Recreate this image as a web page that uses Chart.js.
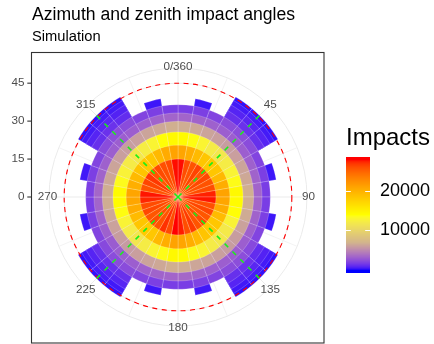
<!DOCTYPE html>
<html>
<head>
<meta charset="utf-8">
<script src="https://cdn.jsdelivr.net/npm/chart.js@4.4.1/dist/chart.umd.min.js"></script>
<style>
  html, body { margin: 0; padding: 0; background: #fff; }
  canvas { display: block; }
</style>
</head>
<body>
<canvas id="chart" width="434" height="344"></canvas>
<script>
// azimuth bins (start of each 10 degree bin)
const azimuthBins = [0, 10, 20, 30, 40, 50, 60, 70, 80, 90, 100, 110, 120, 130, 140, 150, 160, 170,
  180, 190, 200, 210, 220, 230, 240, 250, 260, 270, 280, 290, 300, 310, 320, 330, 340, 350];

// outer edge of each zenith ring (degrees)
const zenithEdges = [15, 20.5, 25.7, 29.9, 33.2, 36.5, 39.4, 42.0, 44.0, 45.6];

// impacts per cell, one array per zenith ring (null = no cell)
const ring1 = [27600, 25900, 25600, 26300, 25400, 26100, 25700, 25900, 27300,
  27500, 25800, 26200, 25500, 26000, 25600, 26600, 25900, 27400,
  27700, 26000, 26900, 25600, 25900, 25500, 26100, 26000, 27200,
  27500, 25700, 26200, 26700, 25600, 26000, 25800, 26100, 27600];
const ring2 = [20800, 20200, 19200, 18300, 18000, 18300, 19300, 20200, 20900,
  20700, 20300, 19100, 18200, 18100, 18400, 19200, 20100, 20800,
  20900, 20100, 19300, 18200, 17900, 18300, 19100, 20300, 20700,
  20800, 20000, 19200, 18400, 18000, 18200, 19300, 20300, 20900];
const ring3 = [14200, 13700, 12900, 12000, 11700, 12100, 12800, 13600, 14300,
  14100, 13800, 12800, 11900, 11800, 12000, 12900, 13500, 14200,
  14300, 13600, 12900, 12100, 11600, 12000, 12800, 13700, 14100,
  14200, 13500, 12700, 12000, 11800, 12200, 12900, 13800, 14300];
const ring4 = [6600, 6400, 6200, 6000, 5900, 6000, 6200, 6400, 6700,
  6600, 6500, 6100, 5900, 5900, 6000, 6200, 6300, 6600,
  6700, 6400, 6200, 6000, 5800, 5900, 6100, 6400, 6600,
  6600, 6300, 6200, 6000, 5900, 6000, 6200, 6400, 6700];
const ring5 = [3400, 3300, 3200, 3100, 3100, 3100, 3200, 3300, 3400,
  3400, 3300, 3200, 3100, 3000, 3100, 3200, 3300, 3500,
  3400, 3300, 3200, 3100, 3100, 3000, 3200, 3300, 3400,
  3500, 3300, 3200, 3100, 3100, 3100, 3200, 3300, 3400];
const ring6 = [1700, 1800, 2000, 2300, 2400, 2300, 2000, 1800, 1700,
  1700, 1800, 2000, 2200, 2400, 2300, 2000, 1900, 1700,
  1700, 1800, 2000, 2300, 2300, 2200, 2000, 1800, 1700,
  1800, 1800, 2000, 2300, 2400, 2300, 2000, 1800, 1700];
const ring7 = [null, 400, null, 1200, 1300, 1200, null, 400, null,
  null, 400, null, 1100, 1300, 1200, null, 450, null,
  null, 400, null, 1200, 1250, 1200, null, 400, null,
  null, 450, null, 1200, 1300, 1100, null, 400, null];
const ring8 = [null, null, null, 800, 900, 800, null, null, null,
  null, null, null, 750, 900, 800, null, null, null,
  null, null, null, 800, 850, 800, null, null, null,
  null, null, null, 800, 900, 750, null, null, null];
const ring9 = [null, null, null, 500, 550, 500, null, null, null,
  null, null, null, 500, 550, 450, null, null, null,
  null, null, null, 450, 550, 500, null, null, null,
  null, null, null, 500, 550, 500, null, null, null];
const ring10 = [null, null, null, 250, 280, 250, null, null, null,
  null, null, null, 250, 280, 250, null, null, null,
  null, null, null, 250, 280, 250, null, null, null,
  null, null, null, 250, 280, 250, null, null, null];
const rings = [ring1, ring2, ring3, ring4, ring5, ring6, ring7, ring8, ring9, ring10];

const radialTicks = [0, 15, 30, 45];
const rMax = 51;
const thetaBreaks = [0, 45, 90, 135, 180, 225, 270, 315];
const thetaLabels = ['0/360', '45', '90', '135', '180', '225', '270', '315'];
const thetaMinor = [22.5, 67.5, 112.5, 157.5, 202.5, 247.5, 292.5, 337.5];
const fovRadius = 45;
const diagonals = [45, 135, 225, 315];
const diagonalReach = 45.6;

const fillColours = ['#0000FF', '#D2B48C', '#FFFF00', '#FFA500', '#FF0000'];
const fillMax = 27700;
const legendBreaks = [10000, 20000];

const FONT = "'Liberation Sans', Arial, Helvetica, sans-serif";

// colour scale, interpolated in Lab like ggplot
function hexToLab(hex) {
  const n = parseInt(hex.slice(1), 16);
  const rgb = [(n >> 16) & 255, (n >> 8) & 255, n & 255].map(c => {
    c /= 255;
    return c <= 0.04045 ? c / 12.92 : Math.pow((c + 0.055) / 1.055, 2.4);
  });
  const x = (rgb[0] * 0.4124564 + rgb[1] * 0.3575761 + rgb[2] * 0.1804375) / 0.95047;
  const y = rgb[0] * 0.2126729 + rgb[1] * 0.7151522 + rgb[2] * 0.0721750;
  const z = (rgb[0] * 0.0193339 + rgb[1] * 0.1191920 + rgb[2] * 0.9503041) / 1.08883;
  const f = t => t > 0.008856 ? Math.cbrt(t) : 7.787 * t + 16 / 116;
  return [116 * f(y) - 16, 500 * (f(x) - f(y)), 200 * (f(y) - f(z))];
}

function labToRgb(lab) {
  const fy = (lab[0] + 16) / 116, fx = fy + lab[1] / 500, fz = fy - lab[2] / 200;
  const inv = t => t * t * t > 0.008856 ? t * t * t : (t - 16 / 116) / 7.787;
  const x = inv(fx) * 0.95047, y = inv(fy), z = inv(fz) * 1.08883;
  const lin = [
    x * 3.2404542 - y * 1.5371385 - z * 0.4985314,
    -x * 0.9692660 + y * 1.8760108 + z * 0.0415560,
    x * 0.0556434 - y * 0.2040259 + z * 1.0572252
  ];
  const g = lin.map(c => {
    c = c <= 0.0031308 ? 12.92 * c : 1.055 * Math.pow(c, 1 / 2.4) - 0.055;
    return Math.round(Math.min(1, Math.max(0, c)) * 255);
  });
  return `rgb(${g[0]},${g[1]},${g[2]})`;
}

const stopsLab = fillColours.map(hexToLab);
function fillColour(v) {
  const t = Math.min(1, Math.max(0, v / fillMax)) * (stopsLab.length - 1);
  const i = Math.min(Math.floor(t), stopsLab.length - 2);
  const f = t - i;
  return labToRgb(stopsLab[i].map((c, k) => c + (stopsLab[i + 1][k] - c) * f));
}

// one polar-area dataset per ring, inner ring first so it is drawn on top
const datasets = rings.map((counts, k) => ({
  data: counts.map(c => c == null ? 0 : zenithEdges[k]),
  backgroundColor: counts.map(c => c == null ? 'rgba(0,0,0,0)' : fillColour(c)),
  borderWidth: counts.map(c => c == null ? 0 : 0.6),
  borderColor: 'rgba(255,255,255,0.35)'
}));

function polarPoint(s, azimuth, value) {
  const d = s.getDistanceFromCenterForValue(value);
  const a = azimuth * Math.PI / 180;
  return { x: s.xCenter + d * Math.sin(a), y: s.yCenter - d * Math.cos(a) };
}

const polarDecor = {
  id: 'polarDecor',
  beforeDatasetsDraw(chart) {
    const s = chart.scales.r;
    const ctx = chart.ctx;
    ctx.save();
    ctx.strokeStyle = '#ebebeb';
    thetaBreaks.concat(thetaMinor).forEach((a, i) => {
      const p = polarPoint(s, a, rMax);
      ctx.lineWidth = i < thetaBreaks.length ? 1 : 0.6;
      ctx.beginPath();
      ctx.moveTo(s.xCenter, s.yCenter);
      ctx.lineTo(p.x, p.y);
      ctx.stroke();
    });
    ctx.restore();
  },
  afterDatasetsDraw(chart) {
    const s = chart.scales.r;
    const ctx = chart.ctx;
    ctx.save();
    // field of view circle
    ctx.strokeStyle = '#ff0000';
    ctx.lineWidth = 1.1;
    ctx.setLineDash([5, 4.5]);
    ctx.beginPath();
    ctx.arc(s.xCenter, s.yCenter, s.getDistanceFromCenterForValue(fovRadius), 0, Math.PI * 2);
    ctx.stroke();
    // detector diagonals
    ctx.strokeStyle = '#19f019';
    ctx.lineWidth = 1.6;
    ctx.setLineDash([5, 6]);
    diagonals.forEach(a => {
      const p = polarPoint(s, a, diagonalReach);
      ctx.beginPath();
      ctx.moveTo(s.xCenter, s.yCenter);
      ctx.lineTo(p.x, p.y);
      ctx.stroke();
    });
    ctx.restore();
  },
  afterDraw(chart) {
    const s = chart.scales.r;
    const ctx = chart.ctx;
    ctx.save();
    // theta labels
    ctx.fillStyle = '#4d4d4d';
    ctx.font = `11.7px ${FONT}`;
    ctx.textAlign = 'center';
    ctx.textBaseline = 'middle';
    thetaBreaks.forEach((a, i) => {
      const d = s.getDistanceFromCenterForValue(rMax) + 1.5;
      const r = a * Math.PI / 180;
      ctx.fillText(thetaLabels[i], s.xCenter + d * Math.sin(r), s.yCenter - d * Math.cos(r));
    });
    // radial axis on the left
    const axisX = 31;
    ctx.textAlign = 'right';
    ctx.strokeStyle = '#333333';
    ctx.lineWidth = 1.1;
    radialTicks.forEach(v => {
      const y = s.yCenter - s.getDistanceFromCenterForValue(v);
      ctx.fillText(String(v), axisX - 6.6, y);
      ctx.beginPath();
      ctx.moveTo(axisX - 3.7, y);
      ctx.lineTo(axisX, y);
      ctx.stroke();
    });
    // panel border
    ctx.strokeRect(31.5, 52.5, 292.5, 290.5);

    // colour bar legend
    const bx = 346, by = 157, bw = 24, bh = 116, nbin = 20;
    const pos = v => by + bh - ((v / fillMax) * (nbin - 1) + 0.5) / nbin * bh;
    for (let y = 0; y < bh; y++) {
      const p = (bh - y - 0.5) / bh;
      const v = (p * nbin - 0.5) / (nbin - 1) * fillMax;
      ctx.fillStyle = fillColour(v);
      ctx.fillRect(bx, by + y, bw, 1);
    }
    ctx.strokeStyle = '#ffffff';
    ctx.lineWidth = 1;
    ctx.fillStyle = '#000000';
    ctx.font = `18px ${FONT}`;
    ctx.textAlign = 'left';
    legendBreaks.forEach(v => {
      const y = Math.round(pos(v)) + 0.5;
      ctx.beginPath();
      ctx.moveTo(bx, y); ctx.lineTo(bx + bw / 5, y);
      ctx.moveTo(bx + bw - bw / 5, y); ctx.lineTo(bx + bw, y);
      ctx.stroke();
      ctx.fillText(String(v), bx + bw + 10, y);
    });
    ctx.font = `24px ${FONT}`;
    ctx.textBaseline = 'alphabetic';
    ctx.fillText('Impacts', bx, 144.5);
    ctx.restore();
  }
};

new Chart(document.getElementById('chart'), {
  type: 'polarArea',
  data: { labels: azimuthBins, datasets },
  options: {
    responsive: false,
    animation: false,
    layout: { padding: { left: 32, right: 110, top: 0, bottom: 17 } },
    plugins: {
      legend: { display: false },
      tooltip: { enabled: false },
      title: {
        display: true,
        text: 'Azimuth and zenith impact angles',
        align: 'start',
        color: '#000000',
        font: { family: FONT, size: 17.6, weight: 'normal' },
        padding: { top: 4.4, bottom: 2.6 }
      },
      subtitle: {
        display: true,
        text: 'Simulation',
        align: 'start',
        color: '#000000',
        font: { family: FONT, size: 14.7, weight: 'normal' },
        padding: { top: 0, bottom: 22.3 }
      }
    },
    scales: {
      r: {
        min: 0,
        max: rMax,
        startAngle: 0,
        ticks: { display: false },
        pointLabels: { display: false },
        angleLines: { display: false },
        grid: { color: '#ebebeb', lineWidth: 1, circular: true },
        afterBuildTicks: s => { s.ticks = radialTicks.concat([rMax]).map(v => ({ value: v })); }
      }
    }
  },
  plugins: [polarDecor]
});
</script>
</body>
</html>
